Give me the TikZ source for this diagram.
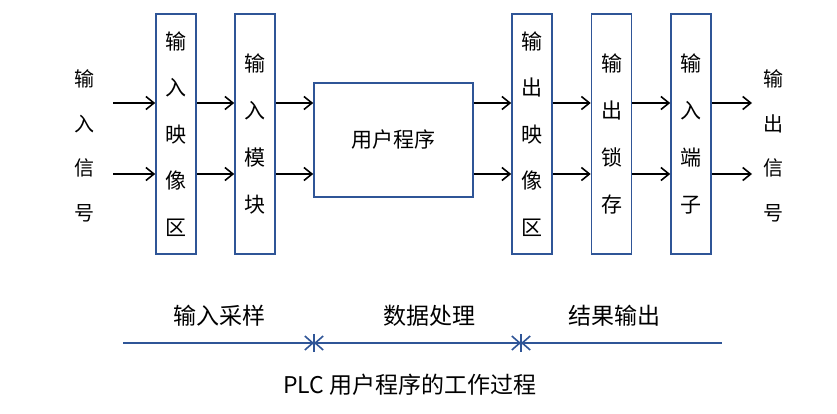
\documentclass[tikz,border=0pt]{standalone}
\usepackage{fontspec}
\setmainfont{Noto Sans CJK SC}
\usetikzlibrary{arrows.meta}
\definecolor{frameblue}{RGB}{47,85,151}

\begin{document}
\begin{tikzpicture}[x=1pt,y=-1pt]
            \pgfmathsetmacro{\ya}{103}
            \pgfmathsetmacro{\yb}{174}
            \tikzstyle{stack}=[draw=frameblue, line width=1.6pt, minimum width=40pt, minimum height=240pt, inner sep=0pt, align=center, font=\fontsize{21}{46.5}\selectfont]
            \tikzstyle{sig}=[align=center, inner sep=0pt, font=\fontsize{20}{44.5}\selectfont]
            \tikzstyle{flow}=[line width=1.6pt, -{Straight Barb[length=8pt,width=13pt,line width=1.6pt]}]
            \tikzstyle{phase}=[inner sep=0pt, font=\fontsize{23}{26}\selectfont]
            \tikzstyle{span}=[frameblue, line width=1.6pt]
            \useasboundingbox (0,0) rectangle (837,413);

            %%%%%%%%%%%%%%%%%%%%%%%%%%%%%%%%%%%%%%%%
            \node at (84, 146) (insig) [sig] {输\\入\\信\\号};
            \node at (773, 146) (outsig) [sig] {输\\出\\信\\号};

            \node at (176, 134) (inimg) [stack] {输\\入\\映\\像\\区};
            \node at (255, 134) (inmod) [stack, font=\fontsize{21}{47.3}\selectfont] {输\\入\\模\\块};
            \node at (393.5, 140) (prog) [draw=frameblue, line width=1.6pt, minimum width=159pt, minimum height=114pt, font=\fontsize{21}{24}\selectfont] {用户程序};
            \node at (532, 134) (outimg) [stack] {输\\出\\映\\像\\区};
            \node at (611.5, 134) (latch) [stack, font=\fontsize{21}{47.3}\selectfont] {输\\出\\锁\\存};
            \node at (691, 134) (term) [stack, font=\fontsize{21}{47.3}\selectfont] {输\\入\\端\\子};

            \coordinate (inA) at (113, \ya);
            \coordinate (inB) at (113, \yb);
            \coordinate (outA) at (752, \ya);
            \coordinate (outB) at (752, \yb);

            \draw[flow] (inA) -- (inA -| inimg.west);
            \draw[flow] (inB) -- (inB -| inimg.west);
            \draw[flow] (inimg.east |- inA) -- (inmod.west |- inA);
            \draw[flow] (inimg.east |- inB) -- (inmod.west |- inB);
            \draw[flow] (inmod.east |- inA) -- (prog.west |- inA);
            \draw[flow] (inmod.east |- inB) -- (prog.west |- inB);
            \draw[flow] (prog.east |- inA) -- (outimg.west |- inA);
            \draw[flow] (prog.east |- inB) -- (outimg.west |- inB);
            \draw[flow] (outimg.east |- inA) -- (latch.west |- inA);
            \draw[flow] (outimg.east |- inB) -- (latch.west |- inB);
            \draw[flow] (latch.east |- inA) -- (term.west |- inA);
            \draw[flow] (latch.east |- inB) -- (term.west |- inB);
            \draw[flow] (term.east |- outA) -- (outA);
            \draw[flow] (term.east |- outB) -- (outB);

            % time line
            \coordinate (t0) at (123, 343);
            \coordinate (t1) at (314, 343);
            \coordinate (t2) at (521, 343);
            \coordinate (t3) at (722, 343);
            \draw[span, -{Straight Barb[length=8pt,width=14pt]}] (t0) -- (t1);
            \draw[span, {Straight Barb[length=8pt,width=14pt]}-{Straight Barb[length=8pt,width=14pt]}] (t1) -- (t2);
            \draw[span, {Straight Barb[length=8pt,width=14pt]}-] (t2) -- (t3);
            \draw[span] ([yshift=-9pt]t1) -- ([yshift=9pt]t1);
            \draw[span] ([yshift=-9pt]t2) -- ([yshift=9pt]t2);

            \node at (219, 316) (sample) [phase] {输入采样};
            \node at (429, 316) (process) [phase] {数据处理};
            \node at (614, 316) (output) [phase] {结果输出};
            \node at (410, 385) (title) [phase] {PLC 用户程序的工作过程};
\end{tikzpicture}
\end{document}
